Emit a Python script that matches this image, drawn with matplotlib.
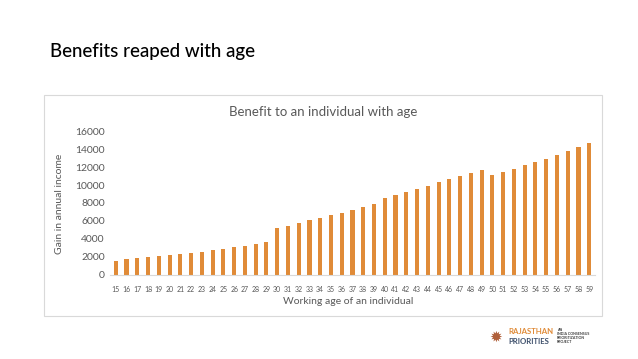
import matplotlib.pyplot as plt
import numpy as np
from matplotlib.patches import Rectangle

# --- data ---
ages = list(range(15, 60))
gain = [1580, 1730, 1840, 1950, 2060, 2210, 2320, 2465, 2610, 2760,
        2910, 3090, 3275, 3460, 3640, 5225, 5480, 5780, 6070, 6370,
        6660, 6920, 7250, 7540, 7875, 8575, 8905, 9275, 9600, 9935,
        10300, 10635, 10970, 11335, 11665, 11115, 11445, 11810, 12180, 12510,
        12915, 13360, 13760, 14200, 14650]
y_ticks = [0, 2000, 4000, 6000, 8000, 10000, 12000, 14000, 16000]

plt.rcParams['font.family'] = ['Lato', 'DejaVu Sans']

W, H = 638, 359
fig = plt.figure(figsize=(W / 100, H / 100), dpi=100)

# slide title
fig.text(50 / W, 1 - 52 / H, "Benefits reaped with age", fontsize=13.5,
         color='black', va='center', ha='left', fontweight='medium')

# chart frame
fig.patches.append(Rectangle((44 / W, 1 - 316 / H), 558 / W, 221 / H,
                             transform=fig.transFigure, fill=False,
                             edgecolor='#d9d9d9', linewidth=0.8))

ax = fig.add_axes([110.4 / W, 1 - 275 / H, 484.2 / W, 144 / H])
x = np.arange(len(ages))
ax.bar(x, gain, width=0.38, color='#E08B38')
ax.set_xlim(-0.5, len(ages) - 0.5)
ax.set_ylim(0, 16000)
ax.set_yticks(y_ticks)
ax.set_yticklabels([str(v) for v in y_ticks], fontsize=7.5, color='#595959')
ax.set_xticks(x)
ax.set_xticklabels([str(a) for a in ages], fontsize=5, color='#595959')
ax.tick_params(length=0, pad=4)
ax.tick_params(axis='x', pad=8)
for s in ['top', 'right', 'left']:
    ax.spines[s].set_visible(False)
ax.spines['bottom'].set_color('#d9d9d9')
ax.spines['bottom'].set_linewidth(0.8)

fig.text(323 / W, 1 - 112 / H, "Benefit to an individual with age",
         fontsize=9.5, color='#595959', ha='center', va='center')
fig.text(348 / W, 1 - 301 / H, "Working age of an individual",
         fontsize=7.5, color='#595959', ha='center', va='center')
fig.text(60 / W, 1 - 204 / H, "Gain in annual income", rotation=90,
         fontsize=7.5, color='#595959', ha='center', va='center')

# logo text
fig.text(496 / W, 1 - 337 / H, "\u2739", fontsize=11, color='#b0603a',
         ha='center', va='center', family=['DejaVu Sans'])
fig.text(508 / W, 1 - 331 / H, "RAJASTHAN", fontsize=5.6, fontweight='bold',
         color='#E08B38', ha='left', va='center')
fig.text(508 / W, 1 - 342 / H, "PRIORITIES", fontsize=5.6, fontweight='bold',
         color='#3d4f6b', ha='left', va='center')
fig.text(557 / W, 1 - 336 / H, "AN\nINDIA CONSENSUS\nPRIORITIZATION\nPROJECT",
         fontsize=2.6, fontweight='bold', color='#3d3d3d', ha='left',
         va='center', linespacing=1.0)

fig.savefig('out.png', dpi=100)
